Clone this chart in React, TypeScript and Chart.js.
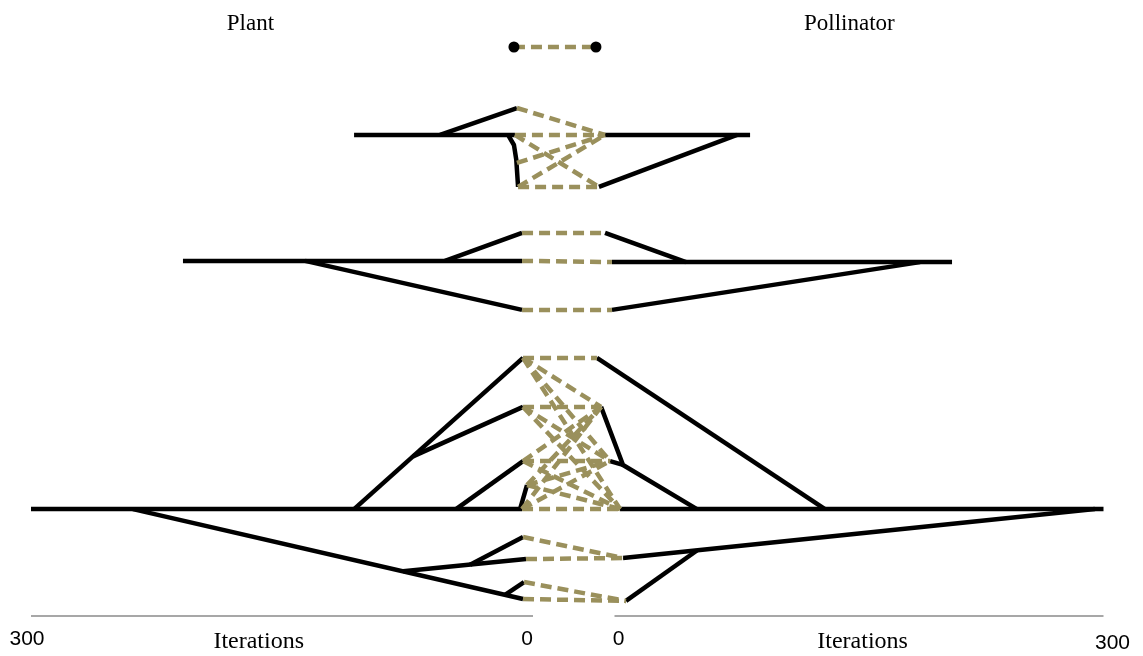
import React, { useEffect, useRef } from "react";
import { Chart, registerables } from "chart.js";

Chart.register(...registerables);

// Horizontal unit: iterations. The plant tree grows leftwards from its zero,
// the pollinator tree rightwards from its own zero, GAP iterations further on.
const GAP = 50;
const MAX_ITER = 300;

// Vertical unit: leaf rows, 0 being the top pair.
type Pt = [number, number]; // [iteration, row]

// Plant tree branches (polylines from parent node to tip)
const plantBranches: Pt[][] = [
  [[104.2, 3.59], [6.7, 3.59]],
  [[52.1, 3.59], [5.5, 2.49]],
  [[10.9, 3.59], [7.3, 4.0], [5.9, 4.6], [4.8, 5.71]],
  [[207.9, 8.73], [2.4, 8.73]],
  [[133.9, 8.73], [2.4, 10.73]],
  [[49.1, 8.73], [2.4, 7.59]],
  [[300, 18.86], [2.4, 18.86]],
  [[104.2, 18.86], [1.8, 12.69]],
  [[68.5, 16.71], [1.8, 14.69]],
  [[42.4, 18.86], [1.8, 16.9]],
  [[3.6, 18.86], [-0.6, 17.88]],
  [[238.2, 18.86], [1.8, 22.53]],
  [[74.5, 21.4], [0, 20.9]],
  [[33.9, 21.13], [1.8, 20.0]],
  [[12.7, 22.36], [1.2, 21.84]],
];

// Pollinator tree branches
const pollinatorBranches: Pt[][] = [
  [[85.8, 3.59], [-2.1, 3.59]],
  [[77.9, 3.59], [-5.8, 5.71]],
  [[208.2, 8.78], [2.1, 8.78]],
  [[188.8, 8.78], [2.1, 10.73]],
  [[47.0, 8.78], [-2.1, 7.59]],
  [[300, 18.86], [7.0, 18.86]],
  [[131.2, 18.86], [-7.0, 12.69]],
  [[53.6, 18.86], [8.8, 17.06], [-4.5, 14.69]],
  [[8.8, 17.06], [0.9, 16.9]],
  [[294.8, 18.86], [8.8, 20.86]],
  [[53.6, 20.55], [10.6, 22.61]],
];

// Leaf positions used by the interaction links
const plantTips: Pt[] = [
  [7.3, 0],
  [5.5, 2.49], [6.7, 3.59], [5.5, 4.73], [4.8, 5.71],
  [2.4, 7.59], [2.4, 8.73], [2.4, 10.73],
  [1.8, 12.69], [1.8, 14.69], [1.8, 16.9], [-0.6, 17.88], [2.4, 18.86],
  [1.8, 20.0], [0, 20.9], [1.2, 21.84], [1.8, 22.53],
];

const pollinatorTips: Pt[] = [
  [-7.6, 0],
  [-2.1, 3.59], [-5.8, 5.71],
  [-2.1, 7.59], [2.1, 8.78], [2.1, 10.73],
  [-7.0, 12.69], [-4.5, 14.69], [0.9, 16.9], [7.0, 18.86],
  [8.8, 20.86], [10.6, 22.61],
];

// Plant–pollinator interactions: [plant tip, pollinator tip]
const interactions: [number, number][] = [
  [0, 0],
  [1, 1], [2, 1], [2, 2], [3, 1], [4, 1], [4, 2],
  [5, 3], [6, 4], [7, 5],
  [8, 6], [8, 7], [8, 8], [8, 9],
  [9, 7], [9, 8], [9, 9],
  [10, 7], [10, 8], [10, 9],
  [11, 7], [11, 8], [11, 9],
  [12, 7], [12, 8], [12, 9],
  [13, 10], [14, 10], [15, 11], [16, 11],
];

// Single-species lineages drawn as dots
const dotPlantTips = [0];
const dotPollinatorTips = [0];

const plantTicks = [300, 0];
const pollinatorTicks = [0, 300];
const sideTitles = ["Plant", "Pollinator"];
const axisTitle = "Iterations";

const plantX = (it: number) => -it;
const pollX = (it: number) => GAP + it;

const W = 1143;
const H = 656;
const PX_PER_ITER = 1.65;
const X_MIN = -526 / PX_PER_ITER;
const X_MAX = X_MIN + W / PX_PER_ITER;
const ROW_PX = 24.5;
const Y_MIN = -47 / ROW_PX;
const Y_MAX = Y_MIN + H / ROW_PX;

const LINK_COLOR = "#9a905c";

const sideAxesPlugin = {
  id: "sideAxes",
  afterDraw(chart: any, _args: any, opts: any) {
    const { ctx } = chart;
    const xs = chart.scales.x;
    const ys = chart.scales.y;
    const yLine = ys.getPixelForValue(opts.axisRow);
    ctx.save();

    // axis lines
    ctx.strokeStyle = "#8a8a8a";
    ctx.lineWidth = 1.5;
    ctx.beginPath();
    ctx.moveTo(xs.getPixelForValue(plantX(MAX_ITER)), yLine);
    ctx.lineTo(xs.getPixelForValue(plantX(0)) + opts.innerOverhang, yLine);
    ctx.moveTo(xs.getPixelForValue(pollX(0)) + opts.innerOverhang - 1, yLine);
    ctx.lineTo(xs.getPixelForValue(pollX(MAX_ITER)), yLine);
    ctx.stroke();

    // tick labels
    ctx.fillStyle = "#000";
    ctx.textAlign = "center";
    ctx.textBaseline = "alphabetic";
    ctx.font = "21px 'Liberation Sans', Arial, sans-serif";
    plantTicks.forEach((t, i) => {
      const px = xs.getPixelForValue(plantX(t)) + opts.plantTickNudge[i];
      ctx.fillText(String(t), px, yLine + opts.tickBaseline[0]);
    });
    pollinatorTicks.forEach((t, i) => {
      const px = xs.getPixelForValue(pollX(t)) + opts.pollTickNudge[i];
      ctx.fillText(String(t), px, yLine + opts.tickBaseline[i === 1 ? 1 : 0]);
    });

    // axis titles
    ctx.font = "24px 'Liberation Serif', 'Times New Roman', serif";
    ctx.fillText(axisTitle, xs.getPixelForValue(plantX(opts.axisTitleAt[0])), yLine + opts.titleBaseline);
    ctx.fillText(axisTitle, xs.getPixelForValue(pollX(opts.axisTitleAt[1])), yLine + opts.titleBaseline);

    // side headers
    ctx.font = "23px 'Liberation Serif', 'Times New Roman', serif";
    ctx.fillText(sideTitles[0], xs.getPixelForValue(plantX(opts.headerAt[0])), opts.headerBaseline);
    ctx.fillText(sideTitles[1], xs.getPixelForValue(pollX(opts.headerAt[1])), opts.headerBaseline);
    ctx.restore();
  },
};

export default function App() {
  const canvasRef = useRef<HTMLCanvasElement | null>(null);

  useEffect(() => {
    if (!canvasRef.current) return;

    const treeStyle = {
      borderColor: "#000",
      borderWidth: 4.5,
      pointRadius: 0,
      showLine: true,
      fill: false,
      borderJoinStyle: "round" as const,
      order: 2,
    };

    const datasets: any[] = [];
    plantBranches.forEach((b) =>
      datasets.push({ ...treeStyle, data: b.map(([it, r]) => ({ x: plantX(it), y: r })) })
    );
    pollinatorBranches.forEach((b) =>
      datasets.push({ ...treeStyle, data: b.map(([it, r]) => ({ x: pollX(it), y: r })) })
    );
    interactions.forEach(([p, q]) => {
      const a = plantTips[p];
      const b = pollinatorTips[q];
      datasets.push({
        borderColor: LINK_COLOR,
        borderWidth: 4.5,
        borderDash: [11, 6],
        pointRadius: 0,
        showLine: true,
        fill: false,
        order: 1,
        data: [
          { x: plantX(a[0]), y: a[1] },
          { x: pollX(b[0]), y: b[1] },
        ],
      });
    });
    datasets.push({
      showLine: false,
      pointRadius: 5.5,
      pointBackgroundColor: "#000",
      pointBorderWidth: 0,
      order: 0,
      data: [
        ...dotPlantTips.map((i) => ({ x: plantX(plantTips[i][0]), y: plantTips[i][1] })),
        ...dotPollinatorTips.map((i) => ({ x: pollX(pollinatorTips[i][0]), y: pollinatorTips[i][1] })),
      ],
    });

    const chart = new Chart(canvasRef.current, {
      type: "scatter",
      data: { datasets },
      options: {
        animation: false,
        responsive: false,
        devicePixelRatio: 1,
        layout: { padding: 0, autoPadding: false },
        events: [],
        scales: {
          x: { type: "linear", min: X_MIN, max: X_MAX, display: false },
          y: { type: "linear", min: Y_MIN, max: Y_MAX, reverse: true, display: false },
        },
        plugins: {
          legend: { display: false },
          tooltip: { enabled: false },
          sideAxes: {
            axisRow: 23.22,
            innerOverhang: 7,
            plantTickNudge: [-4, 1],
            pollTickNudge: [10, 9],
            tickBaseline: [29, 33],
            titleBaseline: 32,
            axisTitleAt: [162, 154],
            headerAt: [167, 146],
            headerBaseline: 30,
          },
        } as any,
      },
      plugins: [sideAxesPlugin],
    });

    return () => chart.destroy();
  }, []);

  return (
    <div style={{ position: "absolute", left: 0, top: 0, width: W, height: H, background: "#fff" }}>
      <canvas ref={canvasRef} width={W} height={H} />
    </div>
  );
}
